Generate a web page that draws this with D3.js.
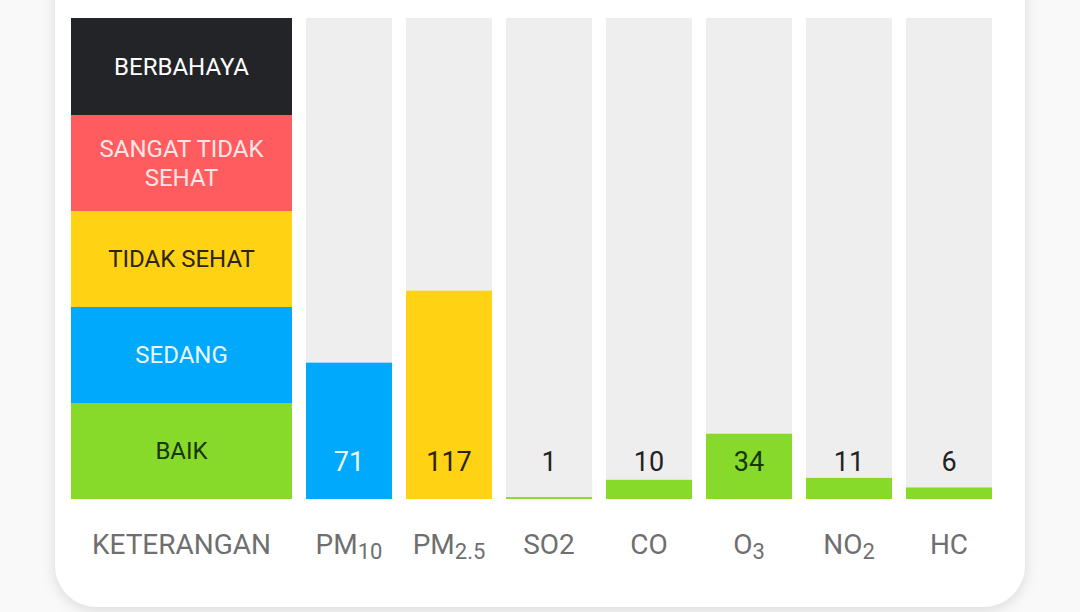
<!DOCTYPE html>
<html>
<head>
<meta charset="utf-8">
<script src="https://cdn.jsdelivr.net/npm/d3@7"></script>
<style>
  html, body { margin: 0; padding: 0; background: #f9f9f9; }
  svg { display: block; font-family: Roboto, "Noto Sans", sans-serif; }
</style>
</head>
<body>
<div id="main"></div>
<script>
const width = 1080;
const height = 612;

// ISPU bands (top to bottom order is reversed when drawn)
const bandNames = [["BAIK"], ["SEDANG"], ["TIDAK SEHAT"], ["SANGAT TIDAK", "SEHAT"], ["BERBAHAYA"]];
const bandLimits = [0, 50, 100, 200, 300, 500];
const bandColors = ["#88da2a", "#00a9fc", "#ffd314", "#ff5c5f", "#232428"];
const bandTextColors = ["#183606", "#eaf7ff", "#2b2410", "#ffe5e5", "#ffffff"];

// pollutants
const pollutants = ["PM10", "PM2.5", "SO2", "CO", "O3", "NO2", "HC"];
const labelBase = ["PM", "PM", "SO2", "CO", "O", "NO", "HC"];
const labelSub = ["10", "2.5", "", "", "3", "2", ""];
const values = [71, 117, 1, 10, 34, 11, 6];

const svg = d3.select("#main").append("svg").attr("width", width).attr("height", height);

const defs = svg.append("defs");
const shadow = defs.append("filter").attr("id", "shadow")
  .attr("x", "-10%").attr("y", "-10%").attr("width", "120%").attr("height", "120%");
shadow.append("feDropShadow")
  .attr("dx", 0).attr("dy", 3).attr("stdDeviation", 7)
  .attr("flood-color", "#000").attr("flood-opacity", 0.13);

// card
svg.append("rect")
  .attr("x", 55).attr("y", -60)
  .attr("width", 970).attr("height", 667)
  .attr("rx", 42)
  .attr("fill", "#ffffff")
  .attr("filter", "url(#shadow)");

const y = d3.scaleLinear().domain(bandLimits).range([499, 403, 307, 211, 115, 18]);

const x = d3.scaleBand()
  .domain(pollutants)
  .range([299, 999])
  .paddingInner(0.14)
  .paddingOuter(0.07);

// legend column
const legend = svg.append("g").attr("id", "legend");
const legendX = 71;
const legendW = 221;

bandNames.forEach((name, i) => {
  const top = y(bandLimits[i + 1]);
  const bottom = y(bandLimits[i]);
  legend.append("rect")
    .attr("x", legendX)
    .attr("y", top)
    .attr("width", legendW)
    .attr("height", bottom - top)
    .attr("fill", bandColors[i]);

  const mid = (top + bottom) / 2;
  const lineH = 29;
  const t = legend.append("text")
    .attr("text-anchor", "middle")
    .attr("fill", bandTextColors[i])
    .style("font-size", "24px");
  name.forEach((line, k) => {
    t.append("tspan")
      .attr("x", legendX + legendW / 2)
      .attr("y", mid + 8 + (k - (name.length - 1) / 2) * lineH)
      .text(line);
  });
});

// bars
const bars = svg.append("g").attr("id", "bars");

const bandIndex = (v) => {
  for (let i = 0; i < bandLimits.length - 1; i++) {
    if (v <= bandLimits[i + 1]) return i;
  }
  return bandLimits.length - 2;
};

pollutants.forEach((p, i) => {
  const v = values[i];
  const bi = bandIndex(v);

  bars.append("rect")
    .attr("x", x(p))
    .attr("y", y(bandLimits[bandLimits.length - 1]))
    .attr("width", x.bandwidth())
    .attr("height", y(0) - y(bandLimits[bandLimits.length - 1]))
    .attr("fill", "#eeeeee");

  bars.append("rect")
    .attr("x", x(p))
    .attr("y", y(v))
    .attr("width", x.bandwidth())
    .attr("height", y(0) - y(v))
    .attr("fill", bandColors[bi]);

  const labelY = 471;
  bars.append("text")
    .attr("x", x(p) + x.bandwidth() / 2)
    .attr("y", labelY)
    .attr("text-anchor", "middle")
    .attr("fill", y(v) < labelY - 22 ? bandTextColors[bi] : "#222222")
    .style("font-size", "27px")
    .text(v);
});

// category labels
const axis = svg.append("g").attr("id", "labels")
  .attr("fill", "#6f6f6f")
  .style("font-size", "28px");

axis.append("text")
  .attr("x", legendX + legendW / 2)
  .attr("y", 554)
  .attr("text-anchor", "middle")
  .text("KETERANGAN");

pollutants.forEach((p, i) => {
  const t = axis.append("text")
    .attr("x", x(p) + x.bandwidth() / 2)
    .attr("y", 554)
    .attr("text-anchor", "middle");
  t.append("tspan").text(labelBase[i]);
  if (labelSub[i]) {
    t.append("tspan")
      .attr("dy", 5)
      .style("font-size", "22px")
      .text(labelSub[i]);
  }
});
</script>
</body>
</html>
